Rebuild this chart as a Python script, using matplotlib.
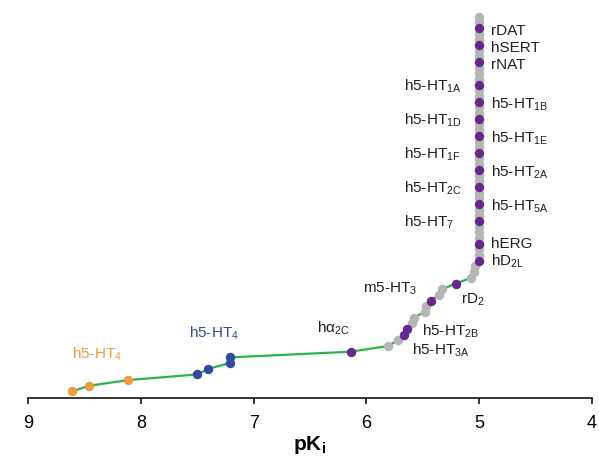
import matplotlib
matplotlib.use("Agg")
import matplotlib.pyplot as plt

plt.rcParams['font.family'] = ['Liberation Sans', 'DejaVu Sans']
plt.rcParams['mathtext.fontset'] = 'custom'
plt.rcParams['mathtext.rm'] = 'Liberation Sans'
plt.rcParams['mathtext.it'] = 'Liberation Sans:italic'
plt.rcParams['mathtext.bf'] = 'Liberation Sans:bold'

# pKi of each target, sorted (rank 0 = lowest point); below 5 shown as 5
pki_low = [8.61, 8.46, 8.11, 7.50, 7.40, 7.21, 7.21, 6.14, 5.81, 5.72,
           5.67, 5.64, 5.60, 5.58, 5.48, 5.47, 5.43, 5.36, 5.33, 5.21,
           5.07, 5.05, 5.04]
pki_col = [5.0] * 44
pki = pki_low + pki_col

# o = h5-HT4 (orange), b = h5-HT4 (blue), p = named target, g = other
kind_low = ['o', 'o', 'o', 'b', 'b', 'b', 'b', 'p', 'g', 'g',
            'p', 'p', 'g', 'g', 'g', 'g', 'p', 'g', 'g', 'p',
            'g', 'g', 'g']
kind_col = ['p', 'g', 'g', 'p', 'g', 'g', 'g', 'p', 'g', 'g',
            'p', 'g', 'g', 'p', 'g', 'g', 'p', 'g', 'g', 'p',
            'g', 'g', 'p', 'g', 'g', 'p', 'g', 'g', 'p', 'g',
            'g', 'p', 'g', 'g', 'g', 'p', 'g', 'g', 'p', 'g',
            'g', 'p', 'g', 'g']
kind = kind_low + kind_col

# label text for point rank
names = {
    0: r'h5-HT$_\mathregular{4}$',
    6: r'h5-HT$_\mathregular{4}$',
    7: r'h$\mathregular{\alpha}_\mathregular{2C}$',
    10: r'h5-HT$_\mathregular{3A}$',
    11: r'h5-HT$_\mathregular{2B}$',
    16: r'm5-HT$_\mathregular{3}$',
    19: r'rD$_\mathregular{2}$',
    23: r'hD$_\mathregular{2L}$',
    26: 'hERG',
    30: r'h5-HT$_\mathregular{7}$',
    33: r'h5-HT$_\mathregular{5A}$',
    36: r'h5-HT$_\mathregular{2C}$',
    39: r'h5-HT$_\mathregular{2A}$',
    42: r'h5-HT$_\mathregular{1F}$',
    45: r'h5-HT$_\mathregular{1E}$',
    48: r'h5-HT$_\mathregular{1D}$',
    51: r'h5-HT$_\mathregular{1B}$',
    54: r'h5-HT$_\mathregular{1A}$',
    58: 'rNAT',
    61: 'hSERT',
    64: 'rDAT',
}

colors = {'o': '#EE9B3E', 'b': '#2F4C9F', 'p': '#65288C', 'g': '#B5B5B5'}
green = '#2DB34A'

# label offsets in pixels (dx, dy) from the point, text baseline
offsets = {0: (0, 33), 6: (-41, 20), 7: (-34, 19), 10: (8, -20), 11: (15, -7),
           16: (-68, 8), 19: (5, -20), 23: (12, -5), 26: (12, -4)}
left_col = [30, 36, 42, 48, 54]

ranks = list(range(len(pki)))

fig = plt.figure(figsize=(5.99, 4.57), dpi=100)
ax = fig.add_axes([28 / 599, 1 - 398 / 457, 564 / 599, 388 / 457])

ax.plot(pki, ranks, color=green, lw=1.6, zorder=1)
for k, z in [('g', 2), ('o', 3), ('b', 3), ('p', 3)]:
    xs = [p for p, kk in zip(pki, kind) if kk == k]
    ys = [r for r, kk in zip(ranks, kind) if kk == k]
    ax.plot(xs, ys, 'o', color=colors[k], ms=6.8, mec='none', zorder=z)

for r, txt in names.items():
    if r in offsets:
        dx, dy = offsets[r]
    elif r in left_col:
        dx, dy = -75, -6
    else:
        dx, dy = 12, -7
    c = '#231F20'
    if kind[r] == 'o':
        c = colors['o']
    elif kind[r] == 'b':
        c = colors['b']
    ax.annotate(txt, (pki[r], r), xytext=(dx, dy), textcoords='offset pixels',
                ha='left', va='baseline', fontsize=11, color=c, zorder=5)

ax.set_xlim(9, 4)
ax.set_ylim(-1.15, 67.15)
ax.set_xticks([9, 8, 7, 6, 5, 4])
ax.set_yticks([])
for s in ['left', 'right', 'top']:
    ax.spines[s].set_visible(False)
ax.spines['bottom'].set_linewidth(1.1)
ax.tick_params(axis='x', direction='out', length=4, width=1.1, pad=8, labelsize=13)
ax.set_xlabel(r'pK$_\mathregular{i}$', fontsize=15, fontweight='bold', labelpad=1.5)
ax.patch.set_alpha(0)

fig.savefig('out.png', dpi=100)
